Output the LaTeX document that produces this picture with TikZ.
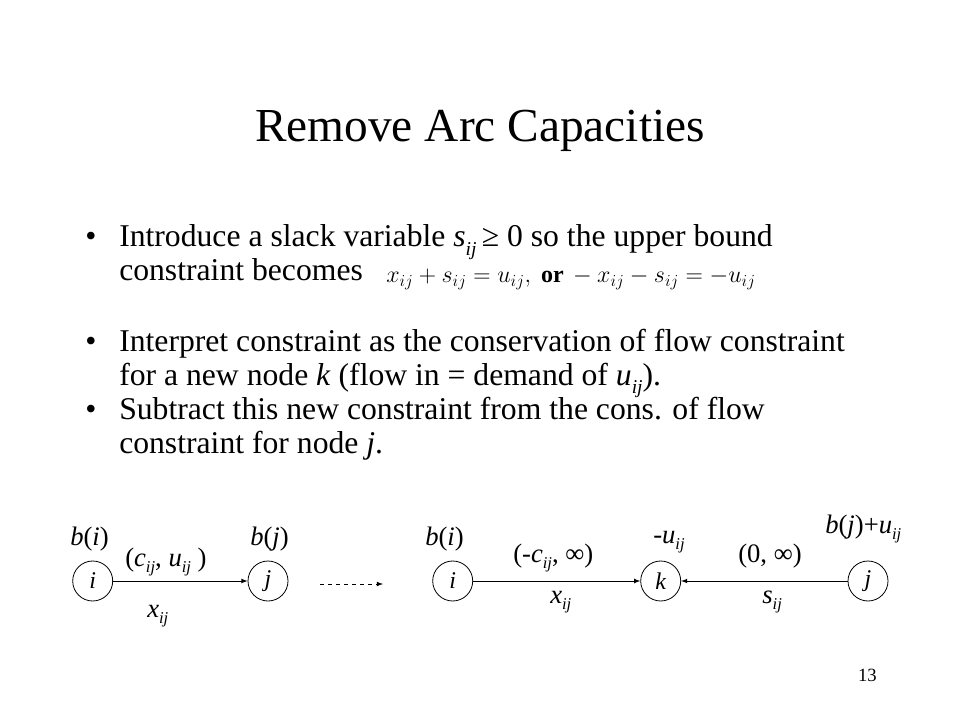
\documentclass[tikz,border=0pt]{standalone}
\usepackage{fix-cm}
\usepackage{fontspec}
\setmainfont{Liberation Serif}
\usepackage{amsmath}
\usetikzlibrary{positioning, arrows, calc}
\newcommand{\ssub}[1]{\raisebox{-0.26em}{\scalebox{0.62}{\textit{#1}}}}
\tikzset{
	vertex/.style={draw, circle, minimum size=30pt, inner sep=0pt, line width=0.6pt, font=\fontsize{18}{18}\selectfont\itshape},
	lbl/.style={anchor=base west, inner sep=0pt, font=\fontsize{20}{20}\selectfont},
	bodytext/.style={anchor=base west, inner sep=0pt, font=\fontsize{23.75}{28}\selectfont},
	arc/.style={-latex, line width=0.6pt}
}

\begin{document}
\begin{tikzpicture}[x=0.75pt, y=-0.75pt]
	\useasboundingbox (0,0) rectangle (960,720);
	\node [anchor=base, inner sep=0pt, font=\fontsize{35.5}{40}\selectfont] (title) at (480,142) {Remove Arc Capacities};
	
	% bullets
	\node [bodytext] (b1) at (85,247) {\textbullet};
	\node [bodytext] (b2) at (85,351) {\textbullet};
	\node [bodytext] (b3) at (85,419) {\textbullet};
	
	\node [bodytext] (l1) at (119,247) {Introduce a slack variable \textit{s}\ssub{ij}\,≥ 0 so the upper bound};
	\node [bodytext] (l2) at (119,281) {constraint becomes};
	\node [anchor=base west, inner sep=0pt, font=\fontsize{18}{19}\selectfont] (eq) at (386,283) {$x_{ij}+s_{ij}=u_{ij},\ \mathbf{or}\,-x_{ij}-s_{ij}=-u_{ij}$};
	\node [bodytext] (l3) at (119,351) {Interpret constraint as the conservation of flow constraint};
	\node [bodytext] (l4) at (119,385) {for a new node \textit{k} (flow in = demand of \textit{u}\ssub{ij}).};
	\node [bodytext] (l5) at (119,419) {Subtract this new constraint from the cons. of flow};
	\node [bodytext] (l6) at (119,453) {constraint for node \textit{j}.};
	
	% original arc
	\node [vertex] (i1) at (92.7,581) {i};
	\node [vertex] (j1) at (268,581) {j};
	\draw [arc] (i1) -- (j1);
	\node [lbl] (bi1) at (70,545) {\textit{b}(\textit{i})};
	\node [lbl] (bj1) at (250,545) {\textit{b}(\textit{j})};
	\node [lbl] (cu1) at (125,566) {(\textit{c}\ssub{ij}, \textit{u}\ssub{ij} )};
	\node [lbl] (x1) at (147,617) {\textit{x}\ssub{ij}};
	
	% transformation
	\coordinate (d1) at (320,584);
	\coordinate (d2) at (383,584);
	\draw [arc, dashed] (d1) -- (d2);
	
	% transformed network
	\node [vertex] (i2) at (452.7,581) {i};
	\node [vertex] (k2) at (660.7,581) {k};
	\node [vertex] (j2) at (868,581) {j};
	\draw [arc] (i2) -- (k2);
	\draw [arc] (j2) -- (k2);
	\node [lbl] (bi2) at (425,545) {\textit{b}(\textit{i})};
	\node [lbl] (c2) at (513,562) {(-\textit{c}\ssub{ij}, ∞)};
	\node [lbl] (u2) at (653,543) {-\textit{u}\ssub{ij}};
	\node [lbl] (z2) at (738,562) {(0, ∞)};
	\node [lbl] (bj2) at (825,533) {\textit{b}(\textit{j})+\textit{u}\ssub{ij}};
	\node [lbl] (x2) at (550,603) {\textit{x}\ssub{ij}};
	\node [lbl] (s2) at (762,603) {\textit{s}\ssub{ij}};
	
	\node [anchor=base east, inner sep=0pt, font=\fontsize{14}{14}\selectfont] (pg) at (877,681) {13};
\end{tikzpicture}
\end{document}
